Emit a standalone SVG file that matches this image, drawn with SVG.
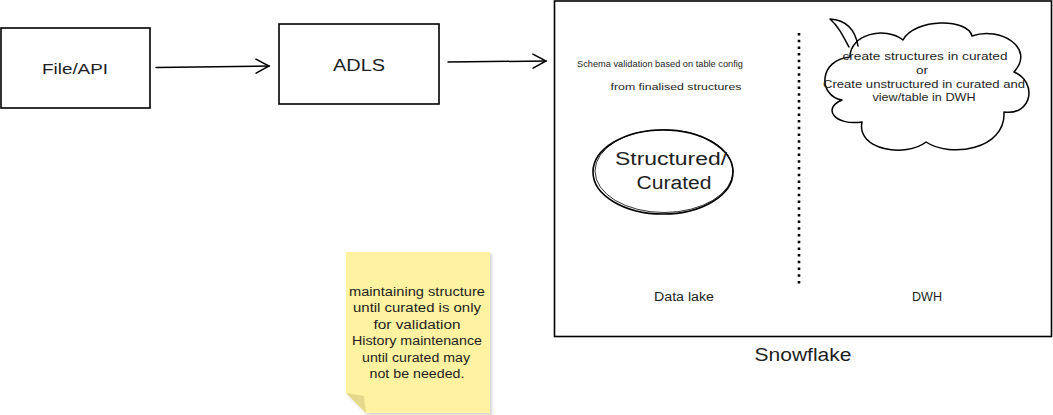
<svg xmlns="http://www.w3.org/2000/svg" width="1053" height="415" viewBox="0 0 1053 415">
<defs>
<style>
.box{fill:#fff;stroke:#000;stroke-width:1.6}
.ln{fill:none;stroke:#000;stroke-width:1.5;stroke-linecap:round;stroke-linejoin:round}
.t{font-family:"Liberation Sans",Arial,sans-serif;fill:#1e1e1e;text-anchor:middle}
</style>
<marker id="arr" markerWidth="16" markerHeight="16" refX="14" refY="8" orient="auto" markerUnits="userSpaceOnUse">
<path d="M1,1 L14,8 L1,15" fill="none" stroke="#000" stroke-width="1.5" stroke-linecap="round"/>
</marker>
<filter id="sh" x="-10%" y="-10%" width="130%" height="130%">
<feDropShadow dx="2" dy="2" stdDeviation="1.5" flood-color="#000" flood-opacity="0.18"/>
</filter>
</defs>
<rect width="1053" height="415" fill="#fff"/>

<g id="snowflake">
<rect class="box" x="554.5" y="1" width="497" height="335.5"/>
<text class="t" x="803" y="361" font-size="18" textLength="97" lengthAdjust="spacingAndGlyphs">Snowflake</text>
<text class="t" x="684" y="301" font-size="12" textLength="60" lengthAdjust="spacingAndGlyphs">Data lake</text>
<text class="t" x="927" y="301" font-size="12" textLength="30" lengthAdjust="spacingAndGlyphs">DWH</text>
<text class="t" x="660" y="67" font-size="9" textLength="166" lengthAdjust="spacingAndGlyphs">Schema validation based on table config</text>
<text class="t" x="676" y="90" font-size="9" textLength="131" lengthAdjust="spacingAndGlyphs">from finalised structures</text>
<line x1="799" y1="33" x2="799" y2="284" stroke="#000" stroke-width="2.6" stroke-dasharray="2.5,4.2"/>
</g>

<g id="file-api">
<rect class="box" x="1" y="28" width="149" height="80"/>
<text class="t" x="75" y="74" font-size="15" textLength="66" lengthAdjust="spacingAndGlyphs">File/API</text>
</g>

<g id="adls">
<rect class="box" x="279" y="24" width="160" height="80"/>
<text class="t" x="359" y="71" font-size="16" textLength="52" lengthAdjust="spacingAndGlyphs">ADLS</text>
</g>

<g id="curated">
<ellipse cx="663" cy="172" rx="70" ry="42" fill="#fff" stroke="#000" stroke-width="1.6"/>
<ellipse cx="664" cy="171" rx="69" ry="41.5" fill="none" stroke="#000" stroke-width="0.8"/>
<text class="t" x="671" y="165" font-size="18" textLength="112" lengthAdjust="spacingAndGlyphs">Structured/</text>
<text class="t" x="674" y="189" font-size="18" textLength="75" lengthAdjust="spacingAndGlyphs">Curated</text>
</g>

<g id="cloud">
<path class="ln" fill="#fff" d="M842,100 C818,96 818,60 850,57 C850,34 885,26 903,40 C915,18 968,18 972,36 C1000,26 1036,48 1014,72 C1038,82 1032,116 1004,112 C1006,150 950,158 926,142 C906,158 856,150 862,122 C834,126 822,108 842,100 Z"/>
<path class="ln" d="M830,19 C845,20 855,28 858,46 M830,19 C838,26 842,34 849,47" fill="none"/>
<text class="t" x="925" y="60" font-size="11" textLength="165" lengthAdjust="spacingAndGlyphs">create structures in curated</text>
<text class="t" x="922" y="74" font-size="11" textLength="12" lengthAdjust="spacingAndGlyphs">or</text>
<text class="t" x="924" y="88" font-size="11" textLength="202" lengthAdjust="spacingAndGlyphs">Create unstructured in curated and</text>
<text class="t" x="924" y="101" font-size="11" textLength="103" lengthAdjust="spacingAndGlyphs">view/table in DWH</text>
</g>

<g id="note">
<path d="M346,252 L490,252 L490,413 L366,413 L346,393 Z" fill="#fff2a1" filter="url(#sh)"/>
<path d="M346,393 L366,413 L364,396 Z" fill="#e6d98c"/>
<g class="t" font-size="12.5" lengthAdjust="spacingAndGlyphs">
<text x="417" y="296" textLength="136" lengthAdjust="spacingAndGlyphs">maintaining structure</text>
<text x="417" y="312" textLength="128" lengthAdjust="spacingAndGlyphs">until curated is only</text>
<text x="417" y="329" textLength="87" lengthAdjust="spacingAndGlyphs">for validation</text>
<text x="417" y="345" textLength="130" lengthAdjust="spacingAndGlyphs">History maintenance</text>
<text x="416" y="362" textLength="108" lengthAdjust="spacingAndGlyphs">until curated may</text>
<text x="417" y="378" textLength="95" lengthAdjust="spacingAndGlyphs">not be needed.</text>
</g>
</g>

<g id="connectors">
<path class="ln" d="M156,67.5 L269,66" marker-end="url(#arr)"/>
<path class="ln" d="M448,62 L546,61" marker-end="url(#arr)"/>
</g>
</svg>
